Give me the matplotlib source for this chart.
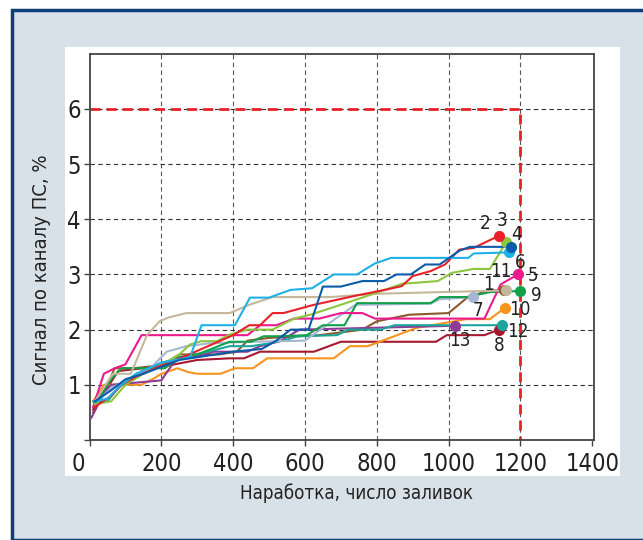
import matplotlib
matplotlib.use("Agg")
import matplotlib.pyplot as plt
import matplotlib.transforms as mtransforms
from matplotlib import font_manager as fm
from matplotlib.patches import Rectangle

# narrow sans if we have one (the original uses a condensed Helvetica)
have = {(f.name, f.stretch) for f in fm.fontManager.ttflist}
names = {n for n, s in have}
if "Liberation Sans Narrow" in names:
    plt.rcParams['font.family'] = ['Liberation Sans Narrow', 'DejaVu Sans']
elif ("DejaVu Sans", "condensed") in have:
    plt.rcParams['font.family'] = ['DejaVu Sans']
    plt.rcParams['font.stretch'] = 'condensed'
else:
    plt.rcParams['font.family'] = ['Liberation Sans', 'DejaVu Sans']

# curves: (x, y) pairs
lblue_x = [15, 50, 80, 130, 200, 280, 312, 405, 447, 500, 560, 620, 680, 745, 795, 840, 1055, 1070, 1168]
lblue_y = [0.7, 0.75, 0.95, 1.2, 1.4, 1.5, 2.08, 2.08, 2.58, 2.58, 2.72, 2.75, 3.0, 3.0, 3.2, 3.3, 3.3, 3.38, 3.4]

dblue_x = [15, 60, 100, 150, 250, 300, 400, 480, 520, 560, 610, 650, 700, 760, 820, 855, 895, 935, 975, 1030, 1060, 1174]
dblue_y = [0.7, 0.9, 1.1, 1.2, 1.45, 1.5, 1.6, 1.65, 1.8, 2.0, 2.0, 2.78, 2.78, 2.88, 2.88, 3.0, 3.0, 3.18, 3.18, 3.43, 3.5, 3.5]

red_x = [15, 60, 90, 130, 200, 260, 330, 400, 445, 475, 510, 540, 625, 745, 830, 870, 900, 950, 990, 1030, 1070, 1140]
red_y = [0.6, 0.8, 1.0, 1.15, 1.35, 1.5, 1.7, 1.9, 2.08, 2.08, 2.3, 2.3, 2.45, 2.62, 2.73, 2.79, 2.97, 3.06, 3.18, 3.45, 3.48, 3.7]

yg_x = [15, 60, 100, 150, 200, 250, 280, 310, 355, 390, 440, 510, 570, 615, 700, 800, 870, 970, 1010, 1070, 1115, 1160]
yg_y = [0.65, 0.7, 1.0, 1.2, 1.35, 1.55, 1.73, 1.79, 1.79, 1.91, 2.0, 2.0, 2.2, 2.27, 2.45, 2.67, 2.83, 2.88, 3.03, 3.1, 3.1, 3.58]

tan_x = [15, 65, 115, 160, 195, 220, 270, 390, 445, 510, 670, 800, 1160]
tan_y = [0.7, 1.2, 1.2, 1.9, 2.15, 2.22, 2.3, 2.3, 2.45, 2.59, 2.59, 2.65, 2.71]

pink_x = [10, 40, 70, 100, 145, 440, 475, 520, 570, 640, 700, 760, 795, 1100, 1145, 1193]
pink_y = [0.6, 1.2, 1.3, 1.37, 1.9, 1.9, 2.08, 2.08, 2.2, 2.2, 2.3, 2.3, 2.2, 2.2, 2.82, 3.0]

green_x = [15, 60, 90, 210, 250, 300, 390, 450, 485, 530, 605, 650, 710, 745, 950, 975, 1050, 1115, 1199]
green_y = [0.65, 1.1, 1.3, 1.3, 1.5, 1.55, 1.78, 1.78, 1.88, 1.88, 1.9, 2.08, 2.08, 2.48, 2.48, 2.59, 2.59, 2.68, 2.7]

gray_x = [15, 60, 100, 170, 215, 270, 330, 450, 600, 660, 740, 950, 975, 1067]
gray_y = [0.65, 0.95, 1.05, 1.3, 1.6, 1.7, 1.75, 1.78, 1.8, 2.08, 2.45, 2.47, 2.55, 2.59]

brown_x = [10, 50, 70, 120, 200, 250, 360, 410, 440, 500, 640, 760, 800, 890, 1000, 1050, 1105, 1155]
brown_y = [0.5, 1.0, 1.3, 1.3, 1.35, 1.55, 1.55, 1.6, 1.8, 1.85, 1.9, 2.0, 2.15, 2.27, 2.3, 2.57, 2.7, 2.72]

purple_x = [5, 40, 60, 200, 220, 245, 290, 345, 440, 475, 530, 585, 1018]
purple_y = [0.4, 0.85, 1.0, 1.08, 1.27, 1.5, 1.5, 1.6, 1.6, 1.7, 1.79, 2.0, 2.07]

teal_x = [10, 50, 80, 130, 200, 260, 330, 390, 450, 500, 550, 580, 690, 720, 810, 850, 1150]
teal_y = [0.7, 0.7, 0.95, 1.2, 1.4, 1.5, 1.6, 1.7, 1.7, 1.75, 1.82, 1.88, 1.9, 2.0, 2.0, 2.08, 2.08]

dred_x = [10, 50, 80, 150, 220, 300, 390, 430, 475, 625, 700, 965, 995, 1100, 1140]
dred_y = [0.55, 0.95, 1.25, 1.3, 1.35, 1.45, 1.48, 1.48, 1.6, 1.6, 1.78, 1.78, 1.9, 1.9, 2.0]

orange_x = [10, 40, 145, 180, 200, 245, 275, 300, 365, 405, 455, 495, 680, 725, 775, 910, 1050, 1115, 1158]
orange_y = [0.7, 1.0, 1.0, 1.12, 1.2, 1.3, 1.23, 1.2, 1.2, 1.3, 1.3, 1.48, 1.48, 1.7, 1.7, 2.03, 2.19, 2.19, 2.4]

# x, y, colour, label, label offset from end point (points)
series = [
    (brown_x, brown_y, "#8a5a2c", "1", (-11.5, 4.2)),
    (dred_x, dred_y, "#a6192e", "8", (0.5, -11.7)),
    (orange_x, orange_y, "#f7941e", "10", (10.3, -1.2)),
    (purple_x, purple_y, "#8f3a97", "13", (3.6, -10.3)),
    (teal_x, teal_y, "#1aa69c", "12", (11.2, -4.8)),
    (gray_x, gray_y, "#a4b6d2", "7", (4.0, -9.6)),
    (green_x, green_y, "#12a14a", "9", (11.5, -3.4)),
    (pink_x, pink_y, "#ec1a8d", "5", (10.8, -0.9)),
    (tan_x, tan_y, "#c5b79c", "11", (-3.6, 13.9)),
    (yg_x, yg_y, "#8cc63e", "3", (-2.7, 15.8)),
    (red_x, red_y, "#ea2029", "2", (-9.9, 9.1)),
    (lblue_x, lblue_y, "#1fb1e6", "6", (8.2, -7.0)),
    (dblue_x, dblue_y, "#0a5cab", "4", (4.1, 9.1)),
]

limit_x = 1200
limit_y = 6

W, H = 643, 540
fig = plt.figure(figsize=(W / 100, H / 100), dpi=100)
fig.patch.set_facecolor("white")

# outer tinted panel with dark blue border, inner white box
fig.patches.append(Rectangle((12 / W, 0), 1, 1 - 10 / H, transform=fig.transFigure,
                             facecolor="#d9e1e8", edgecolor="#0d3f7a", lw=2.5, zorder=-3))
fig.patches.append(Rectangle((65 / W, 1 - 476 / H), (620 - 65) / W, (476 - 47) / H,
                             transform=fig.transFigure, facecolor="white", edgecolor="none", zorder=-2))

ax = fig.add_axes([89.5 / W, 1 - 440 / H, (594 - 89.5) / W, (440 - 53.7) / H])
ax.set_xlim(0, 1405)
ax.set_ylim(0, 7)

ax.set_xticks(range(0, 1401, 200))
ax.set_yticks(range(0, 7))
ax.set_yticklabels([""] + [str(v) for v in range(1, 7)])
ax.tick_params(axis="both", direction="out", length=4.3, width=1, color="#444444",
               labelsize=17, labelcolor="#222222", pad=2)
ax.tick_params(axis="x", pad=4)
first = ax.get_xticklabels()[0]
first.set_transform(first.get_transform() + mtransforms.ScaledTranslation(-0.11, 0, fig.dpi_scale_trans))

for s in ax.spines.values():
    s.set_color("#444444")
    s.set_linewidth(1.3)

for gx in range(200, 1201, 200):
    ax.axvline(gx, color="#555555", lw=0.8, ls=(0, (4, 3)), zorder=1)
for gy in range(1, 7):
    ax.axhline(gy, color="#333333", lw=0.8, ls=(0, (4, 3)), zorder=1)

ax.plot([0, limit_x, limit_x], [limit_y, limit_y, 0], color="#ea2029", lw=2,
        ls=(0, (3.6, 2.2)), zorder=2)

for xs, ys, col, lab, off in series:
    ax.plot(xs, ys, color=col, lw=1.5, zorder=3)
    ax.plot(xs[-1], ys[-1], "o", color=col, ms=7, zorder=4)
    ax.annotate(lab, (xs[-1], ys[-1]), xytext=off, textcoords="offset points",
                ha="center", va="center", fontsize=13.5, color="#222222", zorder=5)

fig.text(356 / W, 1 - 493 / H, "Наработка, число заливок", ha="center", va="center",
         fontsize=13.5, color="#222222")
fig.text(42 / W, 1 - 270 / H, "Сигнал по каналу ПС, %", ha="center", va="center",
         rotation=90, fontsize=14.5, color="#222222")

fig.savefig("out.png", dpi=100)
